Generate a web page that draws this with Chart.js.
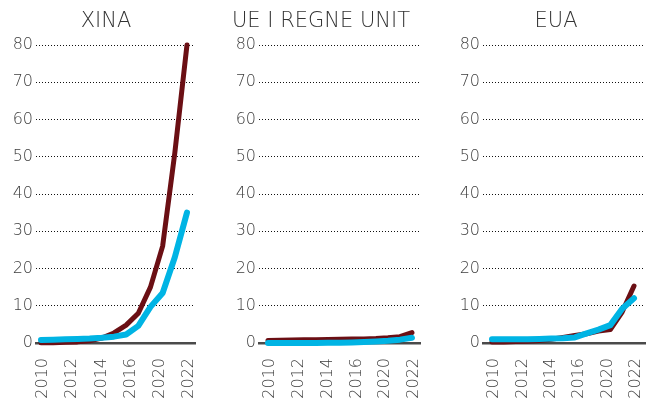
<!DOCTYPE html>
<html>
<head>
<meta charset="utf-8">
<script src="https://cdn.jsdelivr.net/npm/chart.js@4/dist/chart.umd.min.js"></script>
<style>
  body { margin: 0; background: #fff; }
  #wrap { position: relative; width: 650px; height: 400px; }
  canvas { position: absolute; top: 0; }
</style>
</head>
<body>
<div id="wrap">
  <canvas id="c1" width="200" height="400" style="left:0px"></canvas>
  <canvas id="c2" width="210" height="400" style="left:215px"></canvas>
  <canvas id="c3" width="215" height="400" style="left:435px"></canvas>
</div>
<script>
// data
const years = [2010, 2011, 2012, 2013, 2014, 2015, 2016, 2017, 2018, 2019, 2020, 2021, 2022];
const tickLabels = ['2010', '2012', '2014', '2016', '2020', '2022'];
const yTicks = [0, 10, 20, 30, 40, 50, 60, 70, 80];

const xinaRed  = [0.1, 0.1, 0.2, 0.3, 0.6, 1.3, 2.7, 4.8, 8, 15, 26, 51, 80];
const xinaBlue = [0.8, 0.9, 1.0, 1.1, 1.2, 1.4, 1.7, 2.3, 4.6, 9.7, 13.4, 23, 35];
const ueRed    = [0.7, 0.75, 0.8, 0.85, 0.9, 0.95, 1.0, 1.05, 1.1, 1.2, 1.4, 1.7, 2.8];
const ueBlue   = [0.0, 0.0, 0.0, 0.0, 0.0, 0.05, 0.1, 0.15, 0.25, 0.4, 0.6, 0.9, 1.4];
const euaRed   = [0.3, 0.3, 0.4, 0.5, 0.7, 1.0, 1.5, 2.0, 2.5, 3.2, 3.6, 8.3, 15.3];
const euaBlue  = [1.0, 1.0, 1.0, 1.0, 1.1, 1.2, 1.3, 1.5, 2.6, 3.6, 4.8, 9.2, 12];

const RED = '#6b0f14';
const BLUE = '#00b4e4';
const TXT = '#3c3c3c';
const FONT = "'DejaVu Sans', sans-serif";

const panels = [
  { id: 'c1', title: 'XINA', red: xinaRed, blue: xinaBlue, yWidth: 36, xMin: 2009.59, xMax: 2022.66, titleX: 106 },
  { id: 'c2', title: 'UE I REGNE UNIT', red: ueRed, blue: ueBlue, yWidth: 44, xMin: 2009.25, xMax: 2022.67, titleX: 106 },
  { id: 'c3', title: 'EUA', red: euaRed, blue: euaBlue, yWidth: 48, xMin: 2009.24, xMax: 2022.93, titleX: 121 }
];

const panelTitle = {
  id: 'panelTitle',
  afterDraw(chart, args, opts) {
    const ctx = chart.ctx;
    ctx.save();
    ctx.font = '200 21px ' + FONT;
    ctx.fillStyle = '#333';
    ctx.textAlign = 'center';
    ctx.textBaseline = 'alphabetic';
    ctx.fillText(opts.text, opts.x, 27);
    ctx.restore();
  }
};

panels.forEach(p => {
  const pts = arr => years.map((y, i) => ({ x: y, y: arr[i] }));
  new Chart(document.getElementById(p.id), {
    type: 'line',
    data: {
      datasets: [
        { label: 'blau', data: pts(p.blue), borderColor: BLUE, borderWidth: 6 },
        { label: 'granat', data: pts(p.red), borderColor: RED, borderWidth: 5 }
      ]
    },
    options: {
      responsive: false,
      animation: false,
      devicePixelRatio: 1,
      layout: { padding: { top: 45, right: 5, left: 0, bottom: 0 } },
      elements: {
        point: { radius: 0 },
        line: { tension: 0, borderCapStyle: 'round', borderJoinStyle: 'round', fill: false }
      },
      datasets: { line: { clip: false } },
      plugins: {
        legend: { display: false },
        tooltip: { enabled: false },
        panelTitle: { text: p.title, x: p.titleX }
      },
      scales: {
        x: {
          type: 'linear',
          min: p.xMin,
          max: p.xMax,
          afterBuildTicks: s => {
            s.ticks = tickLabels.map((t, i) => ({ value: 2010 + i * 12 / (tickLabels.length - 1) }));
          },
          afterFit: s => {
            s.height = 57;
            s.paddingLeft = 0;
            s.paddingRight = 0;
          },
          grid: { display: false },
          border: { display: true, color: '#4a4a4a', width: 2.5 },
          ticks: {
            autoSkip: false,
            minRotation: 90,
            maxRotation: 90,
            padding: 7,
            labelOffset: 2,
            color: TXT,
            font: { family: FONT, size: 16, weight: 200 },
            callback: (v, i) => tickLabels[i]
          }
        },
        y: {
          min: 0,
          max: 80,
          afterBuildTicks: s => { s.ticks = yTicks.map(v => ({ value: v })); },
          afterFit: s => { s.width = p.yWidth; },
          grid: {
            drawTicks: false,
            color: c => c.tick && c.tick.value === 0 ? 'rgba(0,0,0,0)' : '#111',
            lineWidth: 1
          },
          border: { display: false, dash: [1, 2] },
          ticks: {
            padding: 3,
            color: TXT,
            font: { family: FONT, size: 16, weight: 200 }
          }
        }
      }
    },
    plugins: [panelTitle]
  });
});
</script>
</body>
</html>
